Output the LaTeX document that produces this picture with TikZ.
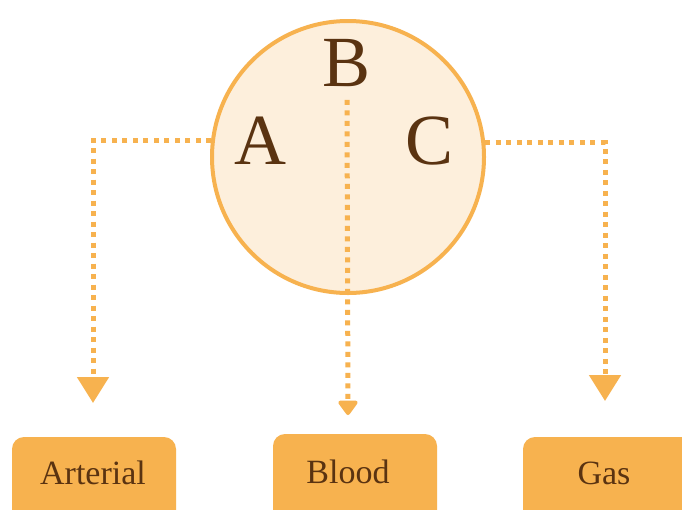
\documentclass[tikz,border=0pt]{standalone}
\usepackage{fontspec}
\setmainfont{Liberation Serif}
\usetikzlibrary{arrows.meta}
\definecolor{orng}{HTML}{F7B24F}
\definecolor{peach}{HTML}{FDEFDC}
\definecolor{brwn}{HTML}{5A3311}
\tikzset{
  bigletter/.style={inner sep=0pt, text=brwn, font=\fontsize{72}{80}\selectfont},
  boxlabel/.style={text=brwn, font=\fontsize{34}{40}\selectfont},
  dotline/.style={draw=orng, line width=5pt, dash pattern=on 5pt off 5.5pt},
}
\begin{document}
\begin{tikzpicture}[x=1pt,y=-1pt]
\useasboundingbox (0,0) rectangle (682,509);
\clip (0,0) rectangle (682,509);
\fill[white] (0,0) rectangle (682,509);
% circle
\node[circle, draw=orng, fill=peach, line width=4pt, minimum size=272pt, inner sep=0pt] (circ) at (348,157) {};
\node[bigletter] (A) at (260,141) {A};
\node[bigletter] (B) at (347,63) {B};
\node[bigletter] (C) at (430,141) {C};
% boxes
\fill[orng, rounded corners=12pt] (12,437) rectangle (176,530);
\fill[orng, rounded corners=12pt] (273,434) rectangle (437,530);
\fill[orng, rounded corners=12pt] (523,437) rectangle (700,530);
\node[boxlabel] (art) at (93,473) {Arterial};
\node[boxlabel] (blo) at (348,472) {Blood};
\node[boxlabel] (gas) at (604,473) {Gas};
% arrow ends
\coordinate (lt) at (93,403);
\coordinate (rt) at (605,401);
\coordinate (mt) at (348,415);
\draw[dotline, -{Triangle[width=31pt,length=26pt]}] (circ.173) -| (lt);
\draw[dotline, -{Triangle[width=31pt,length=26pt]}] (circ.6.7) -| (rt);
\draw[dotline, -{Triangle[round,width=22pt,length=16pt]}] ([yshift=-13pt]B.south) -- (mt);
\end{tikzpicture}
\end{document}
